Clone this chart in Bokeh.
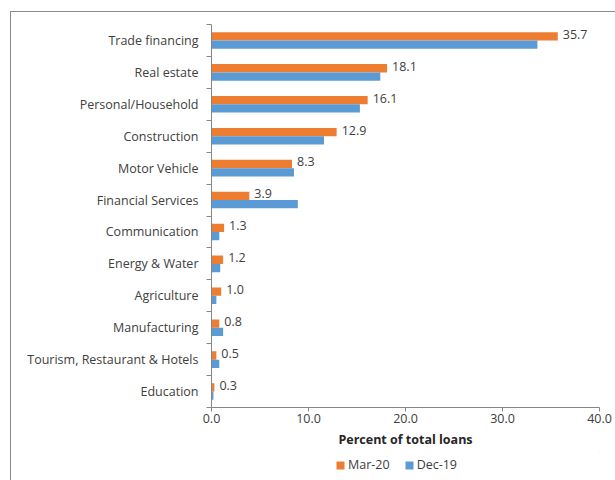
from bokeh.plotting import figure
from bokeh.layouts import column
from bokeh.models import ColumnDataSource, FixedTicker, Legend, LegendItem
from bokeh.core.properties import value
from bokeh.embed import file_html
from bokeh.resources import INLINE

categories = ["Trade financing", "Real estate", "Personal/Household", "Construction",
              "Motor Vehicle", "Financial Services", "Communication", "Energy & Water",
              "Agriculture", "Manufacturing", "Tourism, Restaurant & Hotels", "Education"]
mar20 = [35.7, 18.1, 16.1, 12.9, 8.3, 3.9, 1.3, 1.2, 1.0, 0.8, 0.5, 0.3]
dec19 = [33.6, 17.4, 15.3, 11.6, 8.5, 8.9, 0.8, 0.9, 0.5, 1.2, 0.8, 0.2]
mar20_labels = ["35.7", "18.1", "16.1", "12.9", "8.3", "3.9", "1.3", "1.2", "1.0", "0.8", "0.5", "0.3"]
series_names = ["Mar-20", "Dec-19"]
x_ticks = [0, 10, 20, 30, 40]

FONT = "Open Sans"
TXT = "#404040"
ORANGE = "#ED7D31"
BLUE = "#5B9BD5"
n = len(categories)
centers = [n - i - 0.5 for i in range(n)]
bh = 0.26

src = ColumnDataSource(dict(
    cat=categories,
    yc=centers,
    yo=[c + bh / 2 for c in centers],
    yb=[c - bh / 2 for c in centers],
    mar20=mar20,
    dec19=dec19,
    lab=mar20_labels,
))

p = figure(width=605, height=440, output_backend="svg", toolbar_location=None,
           x_range=(0, 40), y_range=(0, n),
           min_border_left=200, min_border_right=17, min_border_top=12, min_border_bottom=45,
           margin=(11, 0, 0, 10))
p.styles = {"border-left": "1px solid #8c8c8c", "border-top": "1px solid #8c8c8c"}
p.outline_line_color = None
p.grid.visible = False

p.hbar(y="yo", right="mar20", left=0, height=bh, source=src, color=ORANGE, line_color=None)
p.hbar(y="yb", right="dec19", left=0, height=bh, source=src, color=BLUE, line_color=None)

p.text(x="mar20", y="yo", text="lab", source=src, x_offset=5, y_offset=-2, text_baseline="middle",
       text_align="left", text_font=value(FONT), text_font_size="12.5px", text_color=TXT)

# x axis
xa = p.xaxis[0]
xa.ticker = FixedTicker(ticks=x_ticks)
xa.major_label_overrides = {t: f"{t:.1f}" for t in x_ticks}
xa.minor_tick_line_color = None
xa.major_tick_in = 0
xa.major_tick_out = 4
xa.major_label_standoff = 2
xa.axis_line_color = "#868686"
xa.major_tick_line_color = "#868686"
xa.major_label_text_font = FONT
xa.major_label_text_font_size = "12.5px"
xa.major_label_text_color = TXT
xa.axis_label = "Percent of total loans"
xa.axis_label_text_font = FONT
xa.axis_label_text_font_size = "12.5px"
xa.axis_label_text_font_style = "bold"
xa.axis_label_text_color = "#262626"
xa.axis_label_standoff = 5

# y axis
ya = p.yaxis[0]
ya.ticker = FixedTicker(ticks=centers, minor_ticks=list(range(0, n + 1)))
ya.major_label_overrides = {c: cat for c, cat in zip(centers, categories)}
ya.major_tick_in = 0
ya.major_tick_out = 0
ya.minor_tick_in = 0
ya.minor_tick_out = 5
ya.minor_tick_line_color = "#868686"
ya.axis_line_color = "#868686"
ya.major_label_text_font = FONT
ya.major_label_text_font_size = "12.5px"
ya.major_label_text_color = TXT
ya.major_label_standoff = 8

# legend strip
pl = figure(width=605, height=29, output_backend="svg", toolbar_location=None,
            x_range=(0, 1), y_range=(0, 1),
            min_border_left=0, min_border_right=0, min_border_top=0, min_border_bottom=0,
            margin=(0, 0, 0, 10))
pl.styles = {"border-left": "1px solid #8c8c8c"}
pl.outline_line_color = None
pl.grid.visible = False
pl.axis.visible = False
offscreen = ColumnDataSource(dict(y=[5], right=[6]))
lr1 = pl.hbar(y="y", right="right", left=5, height=0.1, source=offscreen, color=ORANGE, line_color=None)
lr2 = pl.hbar(y="y", right="right", left=5, height=0.1, source=offscreen, color=BLUE, line_color=None)
legend = Legend(items=[LegendItem(label=series_names[0], renderers=[lr1]),
                       LegendItem(label=series_names[1], renderers=[lr2])],
                orientation="horizontal", location=(124, 7),
                label_text_font=FONT, label_text_font_size="12.5px", label_text_color=TXT,
                glyph_width=10, glyph_height=10, spacing=14, padding=0, margin=0,
                border_line_color=None, background_fill_alpha=0, label_standoff=3)
pl.add_layout(legend)

layout = column(p, pl, spacing=0)
open("out.html", "w").write(file_html(layout, INLINE))
